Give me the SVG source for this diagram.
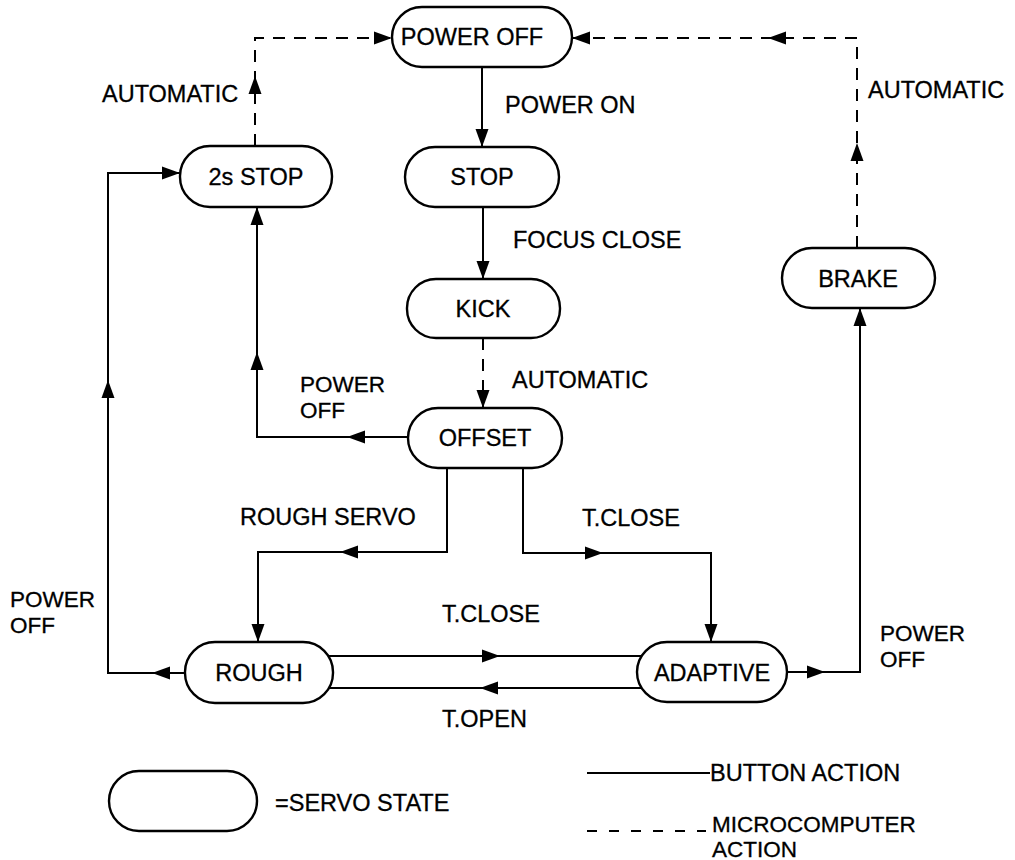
<svg xmlns="http://www.w3.org/2000/svg" xmlns:xlink="http://www.w3.org/1999/xlink" width="1015" height="860" viewBox="0 0 1015 860">
<style>
.node{fill:#fff;stroke:#000;stroke-width:2.4}
.lbl{font-family:"Liberation Sans",Arial,sans-serif;font-size:23.5px;fill:#000;stroke:#000;stroke-width:0.3}
.two{font-size:22.5px}
.c{text-anchor:middle}
.ln{fill:none;stroke:#000;stroke-width:2}
.dash{stroke-dasharray:12 9}
.ah{fill:#000}
</style>
<defs>
<path id="ah" d="M0,0 L-18,-6.5 L-18,6.5 Z"/>
</defs>
<rect width="1015" height="860" fill="#fff"/>
<g id="connectors">
<path class="ln" d="M482,67 V147"/>
<path class="ln" d="M483,207 V279"/>
<path class="ln dash" d="M483,338 V408"/>
<path class="ln" d="M408,437 H257 V207"/>
<path class="ln" d="M447,468 V552 H258 V642"/>
<path class="ln" d="M523,468 V553 H711 V642"/>
<path class="ln" d="M328,656 H641"/>
<path class="ln" d="M641,688 H328"/>
<path class="ln" d="M185,673 H108 V173 H180"/>
<path class="ln" d="M787,672 H860 V308"/>
<path class="ln dash" d="M857,248 V38 H572"/>
<path class="ln dash" d="M255,146 V38 H392"/>
<g class="ah">
<use xlink:href="#ah" transform="translate(482,147) rotate(90)"/>
<use xlink:href="#ah" transform="translate(483,279) rotate(90)"/>
<use xlink:href="#ah" transform="translate(483,408) rotate(90)"/>
<use xlink:href="#ah" transform="translate(347,437) rotate(180)"/>
<use xlink:href="#ah" transform="translate(257,352) rotate(-90)"/>
<use xlink:href="#ah" transform="translate(257,207) rotate(-90)"/>
<use xlink:href="#ah" transform="translate(340,552) rotate(180)"/>
<use xlink:href="#ah" transform="translate(258,642) rotate(90)"/>
<use xlink:href="#ah" transform="translate(603,553)"/>
<use xlink:href="#ah" transform="translate(711,642) rotate(90)"/>
<use xlink:href="#ah" transform="translate(500,656)"/>
<use xlink:href="#ah" transform="translate(480,688) rotate(180)"/>
<use xlink:href="#ah" transform="translate(152,673) rotate(180)"/>
<use xlink:href="#ah" transform="translate(108,380) rotate(-90)"/>
<use xlink:href="#ah" transform="translate(180,173)"/>
<use xlink:href="#ah" transform="translate(825,672)"/>
<use xlink:href="#ah" transform="translate(860,308) rotate(-90)"/>
<use xlink:href="#ah" transform="translate(857,143) rotate(-90)"/>
<use xlink:href="#ah" transform="translate(768,38) rotate(180)"/>
<use xlink:href="#ah" transform="translate(572,38) rotate(180)"/>
<use xlink:href="#ah" transform="translate(255,76) rotate(-90)"/>
<use xlink:href="#ah" transform="translate(392,38)"/>
</g>
<g class="lbl">
<text x="505" y="113">POWER ON</text>
<text x="513" y="248">FOCUS CLOSE</text>
<text x="512" y="388">AUTOMATIC</text>
<text x="102" y="102">AUTOMATIC</text>
<text x="868" y="98">AUTOMATIC</text>
<text class="two" x="300" y="392">POWER</text>
<text class="two" x="300" y="418">OFF</text>
<text x="240" y="525">ROUGH SERVO</text>
<text x="582" y="526">T.CLOSE</text>
<text class="two" x="10" y="607">POWER</text>
<text class="two" x="10" y="633">OFF</text>
<text x="442" y="622">T.CLOSE</text>
<text x="442" y="727">T.OPEN</text>
<text class="two" x="880" y="641">POWER</text>
<text class="two" x="880" y="667">OFF</text>
</g>
</g>
<g id="n-poweroff"><rect class="node" x="392" y="7" width="180" height="60" rx="30"/><text class="lbl c" x="472" y="45">POWER OFF</text></g>
<g id="n-2sstop"><rect class="node" x="180" y="146" width="152" height="61" rx="30"/><text class="lbl c" x="256" y="185">2s STOP</text></g>
<g id="n-stop"><rect class="node" x="405" y="147" width="154" height="60" rx="30"/><text class="lbl c" x="482" y="185">STOP</text></g>
<g id="n-kick"><rect class="node" x="407" y="279" width="153" height="59" rx="29"/><text class="lbl c" x="483" y="317">KICK</text></g>
<g id="n-offset"><rect class="node" x="408" y="408" width="154" height="60" rx="30"/><text class="lbl c" x="485" y="446">OFFSET</text></g>
<g id="n-brake"><rect class="node" x="782" y="248" width="153" height="60" rx="30"/><text class="lbl c" x="858" y="287">BRAKE</text></g>
<g id="n-rough"><rect class="node" x="185" y="642" width="148" height="61" rx="30"/><text class="lbl c" x="259" y="681">ROUGH</text></g>
<g id="n-adaptive"><rect class="node" x="637" y="642" width="150" height="60" rx="30"/><text class="lbl c" x="712" y="681">ADAPTIVE</text></g>
<g id="legend">
<rect class="node" x="109" y="771" width="148" height="60" rx="30"/>
<text class="lbl" x="275" y="811">=SERVO STATE</text>
<path class="ln" d="M587,773 H710"/>
<text class="lbl" x="710" y="781">BUTTON ACTION</text>
<path class="ln" d="M587,831 H706" stroke-dasharray="10 12"/>
<text class="lbl two" x="712" y="832">MICROCOMPUTER</text>
<text class="lbl two" x="712" y="857">ACTION</text>
</g>
</svg>
